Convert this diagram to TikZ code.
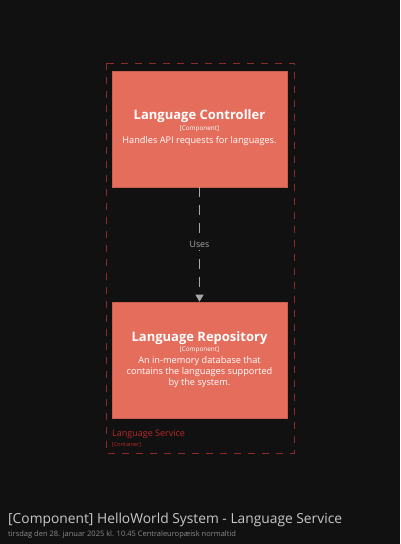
\documentclass[tikz,border=0pt]{standalone}
\usepackage{fontspec}
\setmainfont{Open Sans}
\usetikzlibrary{arrows.meta}
\definecolor{bg}{HTML}{111111}
\definecolor{boxfill}{HTML}{E56D5C}
\definecolor{boxline}{HTML}{C95E50}
\definecolor{bndred}{HTML}{8E2A2A}
\definecolor{bndtext}{HTML}{B8282A}
\definecolor{relgray}{HTML}{A8A8A8}
\definecolor{titlegray}{HTML}{C8C8C8}
\definecolor{subgray}{HTML}{8A8A8A}
\tikzset{
  comp/.style={draw=boxline, line width=0.6pt, fill=boxfill},
  bnd/.style={draw=bndred, line width=0.8pt, dash pattern=on 7pt off 7pt},
  rel/.style={draw=relgray, line width=0.9pt, dash pattern=on 10pt off 8pt, -{Triangle[width=8pt,length=7pt]}},
  ctitle/.style={text=white, font=\bfseries\fontsize{13}{15}\selectfont, inner sep=0pt, anchor=center},
  ctype/.style={text=white, font=\fontsize{6.4}{7}\selectfont, inner sep=0pt, anchor=center},
  cdesc/.style={text=white, font=\fontsize{9.2}{11.2}\selectfont, inner sep=0pt, align=center, anchor=north},
}
\begin{document}
\begin{tikzpicture}[x=1pt,y=-1pt]
\fill[bg] (0,0) rectangle (400,544);
\useasboundingbox (0,0) rectangle (400,544);
% boundary
\draw[bnd] (106,63) rectangle (294,453);
\node[text=bndtext, font=\fontsize{9}{10}\selectfont, anchor=west, inner sep=0pt] (bl) at (112,434) {Language Service};
\node[text=bndtext, font=\fontsize{5.5}{6}\selectfont, anchor=west, inner sep=0pt] (bt) at (112,445) {[Container]};
% components
\node[comp, minimum width=175pt, minimum height=116pt, inner sep=0pt] (ctrl) at (199.5,129) {};
\node[ctitle] (ctrlT) at (199.5,116) {Language Controller};
\node[ctype] (ctrlK) at (199.5,129) {[Component]};
\node[cdesc] (ctrlD) at (199.5,136.5) {Handles API requests for languages.};
\node[comp, minimum width=175pt, minimum height=116pt, inner sep=0pt] (repo) at (199.5,360) {};
\node[ctitle] (repoT) at (199.5,338) {Language Repository};
\node[ctype] (repoK) at (199.5,350) {[Component]};
\node[cdesc] (repoD) at (199.5,356) {An in-memory database that\\contains the languages supported\\by the system.};
% relation
\draw[rel] (ctrl.south) -- (repo.north) node[midway, fill=bg, text=relgray, font=\fontsize{8.8}{10}\selectfont, inner sep=2pt] (uses) {Uses};
% title
\node[text=titlegray, font=\fontsize{13.8}{15}\selectfont, anchor=west, inner sep=0pt] (title) at (8,520) {[Component] HelloWorld System - Language Service};
\node[text=subgray, font=\fontsize{7.5}{9}\selectfont, anchor=west, inner sep=0pt] (sub) at (8,535) {tirsdag den 28. januar 2025 kl. 10.45 Centraleuropæisk normaltid};
\end{tikzpicture}
\end{document}
